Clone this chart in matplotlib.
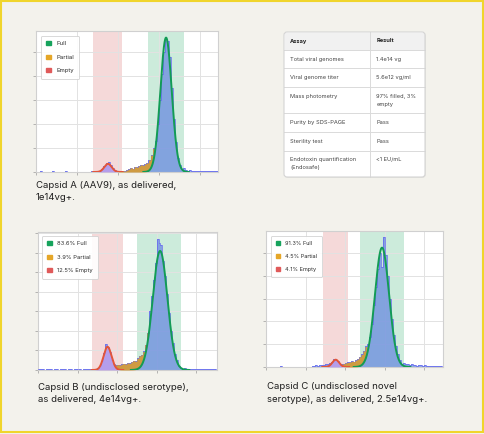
import numpy as np
import matplotlib
matplotlib.use("Agg")
import matplotlib.pyplot as plt
from matplotlib.patches import Rectangle, FancyBboxPatch, Patch

plt.rcParams["font.family"] = ["Inter", "DejaVu Sans"]

BIN_W = 0.05  # histogram bin width (mass units, grid spacing = 1)

# ---- Capsid A (AAV9) ----
a_counts = [0.0, 0.0, 0.05, 0.0, 0.0, 0.0, 0.0, 0.0, 0.04, 0.0, 0.0, 0.0, 0.0,
            0.0, 0.05, 0.0, 0.0, 0.0, 0.0, 0.0, 0.0, 0.0, 0.0, 0.0, 0.0, 0.02,
            0.02, 0.03, 0.02, 0.03,
            0.03, 0.06, 0.13, 0.27, 0.38, 0.40, 0.30, 0.16, 0.08, 0.05,
            0.04, 0.03, 0.05, 0.04, 0.08, 0.12, 0.18, 0.14, 0.22, 0.20, 0.26,
            0.30, 0.28, 0.34, 0.38, 0.50, 0.70, 0.98,
            1.3, 2.0, 3.0, 4.1, 5.0, 5.55, 5.45, 4.8, 3.5, 2.2, 1.25, 0.6, 0.3,
            0.14, 0.16, 0.10, 0.06,
            0.08, 0.05, 0.04, 0.06, 0.03, 0.05, 0.04, 0.05, 0.03, 0.04, 0.05,
            0.03, 0.04, 0.03]
a_full_fit = (3.18, 0.139, 5.6)      # centre, sigma, height
a_empty_fit = (1.76, 0.09, 0.34)
a_partial_span = (1.95, 2.9)
a_empty_gate = (1.40, 2.11)
a_full_gate = (2.75, 3.63)
a_xmax, a_ymax = 4.45, 5.875
a_labels = ["Full", "Partial", "Empty"]
a_caption = ["Capsid A (AAV9), as delivered,", "1e14vg+."]

# ---- Capsid B ----
b_counts = [0.04, 0.03, 0.06, 0.02, 0.05, 0.03, 0.04, 0.02, 0.05, 0.03, 0.02,
            0.04, 0.03, 0.05, 0.02, 0.03, 0.04, 0.02, 0.03, 0.05, 0.02, 0.03,
            0.02, 0.04, 0.06, 0.03, 0.05, 0.04,
            0.05, 0.06,
            0.10, 0.20, 0.45, 0.85, 1.33, 1.20, 0.90, 0.50, 0.30, 0.25,
            0.28, 0.25, 0.30, 0.33, 0.30, 0.36, 0.34, 0.42, 0.48, 0.45, 0.60,
            0.72, 0.78, 0.95, 1.30,
            1.9, 3.0, 3.8, 4.6, 5.5, 6.7, 6.5, 6.4, 5.6, 4.8, 3.9, 2.9, 2.0,
            1.4, 0.8, 0.5, 0.2, 0.08,
            0.06, 0.08, 0.05, 0.07, 0.04, 0.06, 0.05, 0.03, 0.05, 0.04, 0.06,
            0.03, 0.04, 0.05, 0.03, 0.04, 0.03]
b_full_fit = (3.09, 0.185, 6.1)
b_empty_fit = (1.76, 0.1, 1.19)
b_partial_span = (1.95, 2.8)
b_empty_gate = (1.37, 2.14)
b_full_gate = (2.51, 3.62)
b_xmax, b_ymax = 4.53, 7.07
b_labels = ["83.6% Full", "3.9% Partial", "12.5% Empty"]
b_caption = ["Capsid B (undisclosed serotype),", "as delivered, 4e14vg+."]

# ---- Capsid C ----
c_counts = [0, 0, 0, 0, 0, 0, 0, 0.03, 0, 0, 0, 0, 0, 0, 0, 0, 0, 0, 0, 0, 0,
            0, 0.02, 0.04,
            0.05, 0.08, 0.04, 0.07,
            0.08, 0.10, 0.12, 0.14, 0.16, 0.20, 0.35, 0.30, 0.25, 0.15, 0.12,
            0.15,
            0.18, 0.20, 0.22, 0.25, 0.24, 0.30, 0.35, 0.45, 0.55, 0.70, 0.90,
            1.0, 1.3, 1.9, 2.7, 3.5, 4.3, 5.0, 4.4, 5.7, 4.9, 4.0, 3.0, 2.1,
            1.4, 0.9, 0.55, 0.3, 0.15, 0.18, 0.12,
            0.12, 0.10, 0.14, 0.08, 0.10, 0.06, 0.08, 0.10, 0.05, 0.07, 0.04,
            0.06, 0.05, 0.03, 0.05, 0.04, 0.03, 0.04]
c_full_fit = (2.93, 0.179, 5.23)
c_empty_fit = (1.76, 0.085, 0.32)
c_partial_span = (1.9, 2.55)
c_empty_gate = (1.43, 2.07)
c_full_gate = (2.37, 3.48)
c_xmax, c_ymax = 4.47, 5.96
c_labels = ["91.3% Full", "4.5% Partial", "4.1% Empty"]
c_caption = ["Capsid C (undisclosed novel", "serotype), as delivered, 2.5e14vg+."]

# ---- QC table ----
table_header = ["Assay", "Result"]
table_assays = ["Total viral genomes", "Viral genome titer", "Mass photometry",
                "Purity by SDS-PAGE", "Sterility test",
                "Endotoxin quantification\n(Endosafe)"]
table_results = ["1.4e14 vg", "5.6e12 vg/ml", "97% filled, 3%\nempty",
                 "Pass", "Pass", "<1 EU/mL"]

BG = "#f3f2ec"
BLUE_FILL = "#6d8fe0"
BLUE_EDGE = "#6464f2"
GREEN = "#129c55"
RED = "#e2553a"
ORANGE = "#d99a2b"

W, H = 484, 434
fig = plt.figure(figsize=(W / 100, H / 100), dpi=100, facecolor=BG)

# full-figure overlay in pixel coordinates
ov = fig.add_axes([0, 0, 1, 1])
ov.set_xlim(0, W)
ov.set_ylim(H, 0)
ov.axis("off")
ov.patch.set_alpha(0)
ov.add_patch(Rectangle((1, 1), 482, 431.3, fill=False, ec="#f0d52c", lw=1.5))


def gauss(x, fit):
    c, s, h = fit
    return h * np.exp(-(x - c) ** 2 / (2 * s * s))


def px_axes(x0, y0, x1, y1):
    return fig.add_axes([x0 / W, 1 - y1 / H, (x1 - x0) / W, (y1 - y0) / H])


def draw_panel(rect, counts, xmax, ymax, full_fit, empty_fit, pspan,
               egate, fgate, labels, caption, cap_xy, lfs, lpad):
    ax = px_axes(*rect)
    counts = np.array(counts, dtype=float)
    edges = np.arange(len(counts) + 1) * BIN_W
    ax.set_xlim(0, xmax)
    ax.set_ylim(0, ymax)

    ax.axvspan(*egate, color="#e8a0a0", alpha=0.4, lw=0, zorder=0.2)
    ax.axvspan(*fgate, color="#8fd4b0", alpha=0.45, lw=0, zorder=0.2)

    ax.stairs(counts, edges, fill=True, color=BLUE_FILL, alpha=0.78, lw=0, zorder=2)
    ax.stairs(counts, edges, color=BLUE_EDGE, lw=0.5, zorder=3)

    xf = np.linspace(0, xmax, 3000)
    idx = np.clip((xf / BIN_W).astype(int), 0, len(counts) - 1)
    hf = counts[idx]
    ge = gauss(xf, empty_fit)
    gf = gauss(xf, full_fit)
    low = np.maximum(ge, gf)
    m = (xf >= pspan[0]) & (xf <= pspan[1]) & (hf > low)
    ax.fill_between(xf, low, hf, where=m, color=ORANGE, alpha=0.88, lw=0, zorder=3.5)

    ce, se, _ = empty_fit
    me = np.abs(xf - ce) < 4 * se
    ax.fill_between(xf[me], 0, ge[me], color="#c39ef0", alpha=0.75, lw=0, zorder=3.2)
    ax.plot(xf[me], ge[me], color=RED, lw=1.4, zorder=4)
    cf, sf, _ = full_fit
    mf = np.abs(xf - cf) < 4 * sf
    ax.plot(xf[mf], gf[mf], color=GREEN, lw=1.4, zorder=4)

    ax.set_xticks(np.arange(0, xmax, 1.0))
    ax.set_yticks(np.arange(0, ymax, 1.0))
    ax.set_xticklabels([])
    ax.set_yticklabels([])
    ax.tick_params(length=2, width=0.5, color="#9a9a9a")
    ax.set_axisbelow(True)
    ax.grid(color="#e2e2e2", lw=0.7)
    for sp in ax.spines.values():
        sp.set_color("#d0d0d0")
        sp.set_linewidth(0.8)

    handles = [Patch(color="#16a35c"), Patch(color="#e5a628"), Patch(color="#e05a5a")]
    leg = ax.legend(handles, labels, loc="upper left", fontsize=lfs,
                    borderaxespad=lpad, borderpad=0.9, labelspacing=1.45,
                    handlelength=0.8, handleheight=0.6, handletextpad=0.9,
                    frameon=True, fancybox=True, framealpha=0.92)
    leg.get_frame().set_edgecolor("#cfcfcf")
    leg.get_frame().set_linewidth(0.6)
    for t in leg.get_texts():
        t.set_color("#2e2e2e")

    for i, line in enumerate(caption):
        ov.text(cap_xy[0], cap_xy[1] + i * 12.5, line, fontsize=6.9,
                color="#1e1e1e", va="center", ha="left")


draw_panel((36, 31, 218, 172), a_counts, a_xmax, a_ymax, a_full_fit, a_empty_fit,
           a_partial_span, a_empty_gate, a_full_gate, a_labels, a_caption,
           (36, 185.5), 4.3, 0.8)
draw_panel((38, 232, 217, 370), b_counts, b_xmax, b_ymax, b_full_fit, b_empty_fit,
           b_partial_span, b_empty_gate, b_full_gate, b_labels, b_caption,
           (38, 387), 4.2, 0.7)
draw_panel((266, 231, 443, 367), c_counts, c_xmax, c_ymax, c_full_fit, c_empty_fit,
           c_partial_span, c_empty_gate, c_full_gate, c_labels, c_caption,
           (267, 386.5), 4.0, 0.9)

# ---- table ----
tx0, tx1, txm = 284, 425, 370.3
row_y = [32, 50, 68.3, 87.3, 113.3, 132.3, 150.7, 177]
ov.add_patch(FancyBboxPatch((tx0 + 0.8, row_y[0] + 0.8), tx1 - tx0, row_y[-1] - row_y[0],
                            boxstyle="round,pad=0,rounding_size=3",
                            fc="#e4e3dd", ec="none", zorder=1))
ov.add_patch(FancyBboxPatch((tx0, row_y[0]), tx1 - tx0, row_y[-1] - row_y[0],
                            boxstyle="round,pad=0,rounding_size=3",
                            fc="white", ec="none", zorder=2))
ov.add_patch(Rectangle((tx0 + 0.5, row_y[0] + 0.5), tx1 - tx0 - 1, row_y[1] - row_y[0],
                       fc="#f1f1f1", ec="none", zorder=2.5))
for yy in row_y[1:-1]:
    ov.plot([tx0, tx1], [yy, yy], color="#dadada", lw=0.7, zorder=3)
ov.plot([txm, txm], [row_y[0], row_y[-1]], color="#dadada", lw=0.7, zorder=3)
ov.add_patch(FancyBboxPatch((tx0, row_y[0]), tx1 - tx0, row_y[-1] - row_y[0],
                            boxstyle="round,pad=0,rounding_size=3",
                            fc="none", ec="#d4d4d4", lw=0.8, zorder=4))

ov.text(tx0 + 6, 41, table_header[0], fontsize=4.1, fontweight="bold",
        color="#222222", va="center", zorder=5)
ov.text(txm + 6, 41, table_header[1], fontsize=4.1, fontweight="bold",
        color="#222222", va="center", zorder=5)
for r, (assay, res) in enumerate(zip(table_assays, table_results)):
    top = row_y[r + 1]
    for col_x, txt in ((tx0 + 6, assay), (txm + 6, res)):
        for i, line in enumerate(txt.split("\n")):
            ov.text(col_x, top + 9.3 + 8 * i, line, fontsize=4.1,
                    color="#444444", va="center", zorder=5)

fig.savefig("out.png", dpi=100, facecolor=BG)
